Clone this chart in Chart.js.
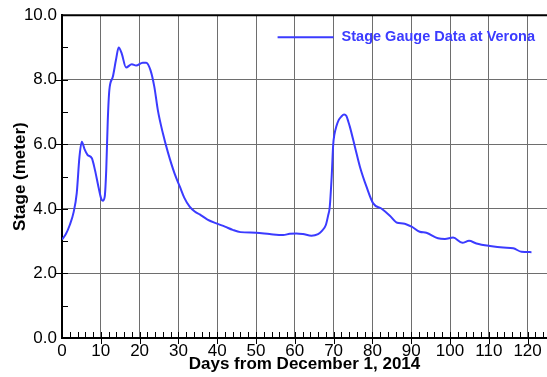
<!DOCTYPE html>
<html>
<head>
<meta charset="utf-8">
<script src="https://cdn.jsdelivr.net/npm/chart.js@4.4.1/dist/chart.umd.min.js"></script>
<style>
  html, body { margin: 0; padding: 0; background: #fff; }
</style>
</head>
<body>
<canvas id="stageChart" width="547" height="377"></canvas>
<script>
// stage readings at Verona (days since Dec 1, 2014 / stage in metres)
const days = [0, 1, 2, 3, 3.8, 4.5, 5.1, 5.8, 6.6, 7.7, 8.5, 9.4, 10.1, 10.5, 11.0, 11.4, 11.8, 12.2,
  13.1, 13.9, 14.6, 15.4, 16.5, 18.0, 19.1, 20.8, 21.7, 22.8, 23.8, 24.7, 26.0, 27.3, 29.0, 30.4,
  31.5, 32.9, 34.2, 35.5, 37.5, 39.8, 42, 44, 46, 50, 53.5, 57, 58.7, 60.4, 62.1, 64.3, 66.0, 67.0,
  68.0, 68.6, 69.0, 69.5, 69.9, 70.2, 70.7, 71.3, 72.0, 72.7, 73.3, 73.8, 74.2, 75.5, 76.8, 78.5,
  80.2, 82.3, 84.5, 86.4, 87.9, 90.1, 92.2, 93.9, 96.9, 98.7, 100.8, 103.2, 104.9, 106.8, 110.3,
  113.7, 116.3, 118.4, 121];
const stage = [3.05, 3.22, 3.5, 3.9, 4.49, 5.61, 6.08, 5.85, 5.67, 5.57, 5.2, 4.68, 4.32, 4.25, 4.37, 5.2, 6.75, 7.68,
  8.09, 8.61, 9.0, 8.81, 8.38, 8.48, 8.44, 8.53, 8.53, 8.3, 7.78, 7.06, 6.34, 5.75, 5.1, 4.68,
  4.35, 4.07, 3.92, 3.83, 3.67, 3.55, 3.45, 3.35, 3.28, 3.26, 3.22, 3.19, 3.23, 3.24, 3.22, 3.17, 3.22, 3.32,
  3.5, 3.8, 4.05, 4.99, 6.0, 6.3, 6.55, 6.75, 6.86, 6.92, 6.88, 6.7, 6.54, 5.92, 5.3, 4.68,
  4.17, 4.01, 3.79, 3.57, 3.55, 3.45, 3.29, 3.26, 3.09, 3.07, 3.11, 2.95, 3.01, 2.93, 2.85,
  2.8, 2.78, 2.67, 2.66];
const xMajor = [0, 10, 20, 30, 40, 50, 60, 70, 80, 90, 100, 110, 120];
const yMajor = [0, 2, 4, 6, 8, 10];
const seriesLabel = 'Stage Gauge Data at Verona';

const lineBlue = '#3b3bff';
const fontFam = '"Liberation Sans", Arial, sans-serif';

// top frame line, minor/major tick marks and the legend
const framePlugin = {
  id: 'framePlugin',
  afterDraw(chart) {
    const { ctx, chartArea } = chart;
    const xs = chart.scales.x, ys = chart.scales.y;
    ctx.save();
    ctx.strokeStyle = '#000';
    ctx.lineWidth = 2;
    ctx.beginPath();
    ctx.moveTo(chartArea.left - 1, chartArea.top);
    ctx.lineTo(chartArea.right, chartArea.top);
    ctx.stroke();

    ctx.lineWidth = 1;
    ctx.beginPath();
    for (let d = 2; d < xs.max; d += 2) {
      const px = Math.round(xs.getPixelForValue(d)) + 0.5;
      const major = xMajor.includes(d);
      ctx.moveTo(px, chartArea.bottom + (major ? 6 : 0));
      ctx.lineTo(px, chartArea.bottom - 6);
    }
    for (let v = 1; v < ys.max; v += 1) {
      const py = Math.round(ys.getPixelForValue(v)) + 0.5;
      const major = yMajor.includes(v);
      ctx.moveTo(chartArea.left - (major ? 6 : 0), py);
      ctx.lineTo(chartArea.left + 6, py);
    }
    ctx.stroke();

    const ds = chart.data.datasets[0];
    ctx.font = 'bold 14.5px ' + fontFam;
    const tw = ctx.measureText(ds.label).width;
    const textLeft = chartArea.right - 12 - tw;
    const ly = chartArea.top + 22;
    ctx.strokeStyle = ds.borderColor;
    ctx.lineWidth = 2;
    ctx.beginPath();
    ctx.moveTo(textLeft - 64, ly);
    ctx.lineTo(textLeft - 8, ly);
    ctx.stroke();
    ctx.fillStyle = ds.borderColor;
    ctx.textBaseline = 'middle';
    ctx.fillText(ds.label, textLeft, ly);
    ctx.restore();
  }
};

const ctx = document.getElementById('stageChart').getContext('2d');
new Chart(ctx, {
  type: 'line',
  data: {
    datasets: [{
      label: seriesLabel,
      data: days.map((d, i) => ({ x: d, y: stage[i] })),
      borderColor: lineBlue,
      borderWidth: 2,
      pointRadius: 0,
      fill: false,
      cubicInterpolationMode: 'monotone'
    }]
  },
  options: {
    responsive: false,
    animation: false,
    layout: { padding: { top: 15, right: 0, left: 0, bottom: 0 } },
    plugins: {
      legend: { display: false },
      tooltip: { enabled: false }
    },
    scales: {
      x: {
        type: 'linear',
        min: 0,
        max: 125,
        afterFit: (s) => { s.height = 39; },
        ticks: {
          stepSize: 10,
          includeBounds: false,
          color: '#000',
          padding: 3,
          maxRotation: 0,
          font: { family: fontFam, size: 17 }
        },
        grid: { color: '#6e6e6e', lineWidth: 1, drawTicks: false },
        border: { color: '#000', width: 2 },
        title: {
          display: true,
          text: 'Days from December 1, 2014',
          color: '#000',
          padding: { top: 0, bottom: 2 },
          font: { family: fontFam, size: 17, weight: 'bold' }
        }
      },
      y: {
        min: 0,
        max: 10,
        afterFit: (s) => { s.width = 62; },
        ticks: {
          stepSize: 2,
          color: '#000',
          padding: 5,
          callback: (v) => Number(v).toFixed(1),
          font: { family: fontFam, size: 17 }
        },
        grid: { color: '#6e6e6e', lineWidth: 1, drawTicks: false },
        border: { color: '#000', width: 2 },
        title: {
          display: true,
          text: 'Stage (meter)',
          color: '#000',
          padding: { top: 10, bottom: 0 },
          font: { family: fontFam, size: 17, weight: 'bold' }
        }
      }
    }
  },
  plugins: [framePlugin]
});
</script>
</body>
</html>
